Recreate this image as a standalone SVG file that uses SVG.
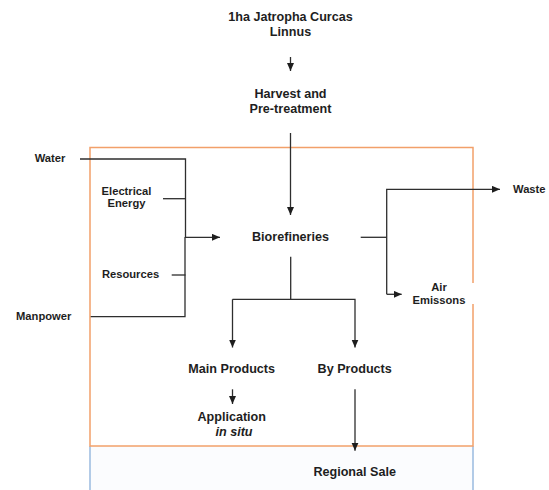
<svg xmlns="http://www.w3.org/2000/svg" width="549" height="490" viewBox="0 0 549 490">
<style>
.t{font-family:"Liberation Sans",Arial,sans-serif;font-weight:bold;font-size:12.6px;fill:#1e1e1e;text-anchor:middle}
.s{font-size:11.2px}
.it{font-style:italic}
.c{fill:none;stroke:#2e2e2e;stroke-width:1.3}
</style>
<defs>
<marker id="ah" markerUnits="userSpaceOnUse" markerWidth="9" markerHeight="8" refX="8" refY="3.5" orient="auto">
<path d="M0,0 L8,3.5 L0,7 z" fill="#1e1e1e"/>
</marker>
</defs>
<g id="boundary">
<rect x="90" y="446" width="383" height="44" fill="#fbfcfe"/>
<path d="M90,446 V490 M473,446 V490" stroke="#9bbbe0" stroke-width="1.5" fill="none"/>
<rect x="90" y="147.5" width="383" height="298.5" fill="none" stroke="#f2a06a" stroke-width="1.5"/>
</g>
<g id="connectors">
<path class="c" d="M290.5,57 V71" marker-end="url(#ah)"/>
<path class="c" d="M290.5,133 V215" marker-end="url(#ah)"/>
<path class="c" d="M80,159 H185.5 V237"/>
<path class="c" d="M163,198.7 H185.5"/>
<path class="c" d="M171.7,275 H185.5"/>
<path class="c" d="M90.7,316.7 H185 V237"/>
<path class="c" d="M185,237.3 H220" marker-end="url(#ah)"/>
<path class="c" d="M360.7,237.3 H386.7"/>
<path class="c" d="M386.7,294.3 V189.3 H500" marker-end="url(#ah)"/>
<path class="c" d="M386.7,294.3 H401.7" marker-end="url(#ah)"/>
<path class="c" d="M290.7,256.7 V299.3"/>
<path class="c" d="M232.5,299.3 H355 V347.5" marker-end="url(#ah)"/>
<path class="c" d="M232.5,299.3 V347.5" marker-end="url(#ah)"/>
<path class="c" d="M232.5,389.3 V404" marker-end="url(#ah)"/>
<path class="c" d="M355,389.3 V450.7" marker-end="url(#ah)"/>
</g>
<g id="jatropha"><text class="t" x="290.5" y="20.5">1ha Jatropha Curcas</text><text class="t" x="290.5" y="35.5">Linnus</text></g>
<g id="harvest"><text class="t" x="290.5" y="97.8">Harvest and</text><text class="t" x="290.5" y="112.8">Pre-treatment</text></g>
<g id="biorefineries"><text class="t" x="290.5" y="241.2">Biorefineries</text></g>
<g id="water"><text class="t s" x="50" y="161.7">Water</text></g>
<g id="electrical"><text class="t s" x="126.5" y="195">Electrical</text><text class="t s" x="126.5" y="207">Energy</text></g>
<g id="resources"><text class="t s" x="130.5" y="278">Resources</text></g>
<g id="manpower"><text class="t s" x="43.7" y="320">Manpower</text></g>
<g id="waste"><text class="t s" x="513" y="193" style="text-anchor:start">Waste</text></g>
<g id="air-emissions"><rect x="410" y="283" width="68" height="21" fill="#fff"/><text class="t s" x="439" y="291.3">Air</text><text class="t s" x="439" y="304">Emissons</text></g>
<g id="main-products"><text class="t" x="231.7" y="372.5">Main Products</text></g>
<g id="by-products"><text class="t" x="354.7" y="372.5">By Products</text></g>
<g id="application"><text class="t" x="231.7" y="420.8">Application</text><text class="t it" x="234" y="435.5">in situ</text></g>
<g id="regional-sale"><text class="t" x="354.7" y="475.5">Regional Sale</text></g>
</svg>
